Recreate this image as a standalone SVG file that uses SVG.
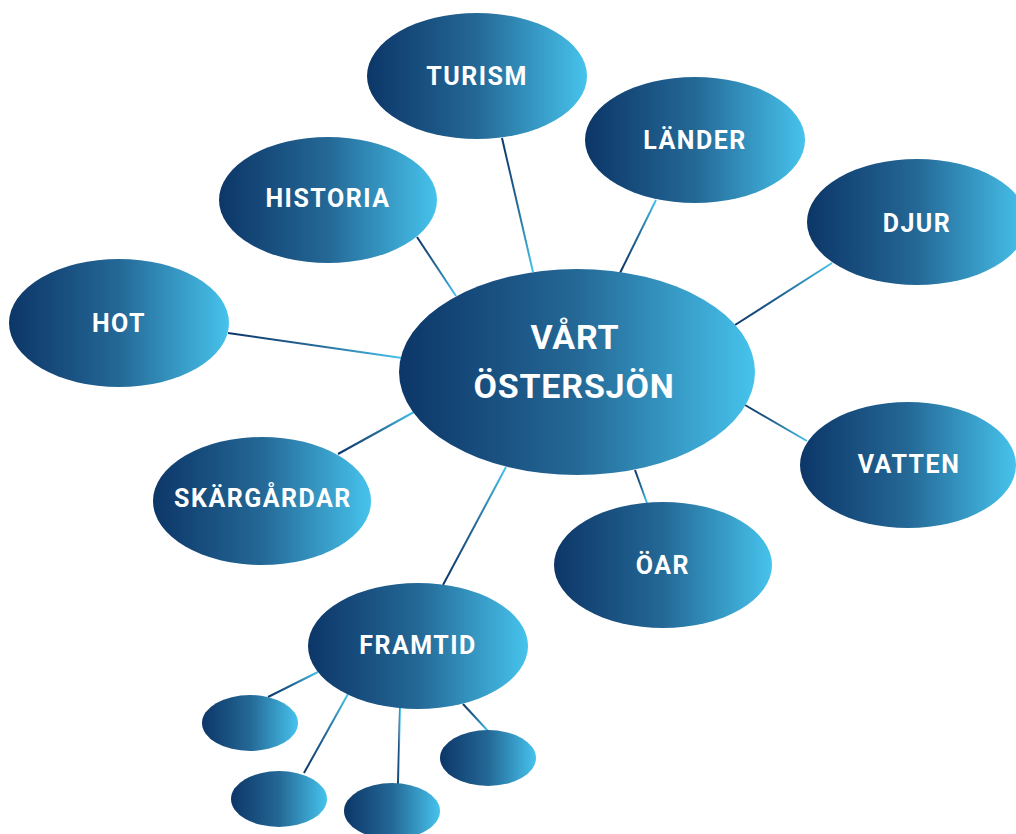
<svg xmlns="http://www.w3.org/2000/svg" width="1016" height="834" viewBox="0 0 1016 834">
<defs>
<linearGradient id="g" x1="0" y1="0" x2="1" y2="0">
<stop offset="0" stop-color="#0c3668"/>
<stop offset="0.5" stop-color="#246896"/>
<stop offset="1" stop-color="#46c3ec"/>
</linearGradient>
<style>
.n{fill:url(#g)}
.c line{stroke:url(#g);stroke-width:2}
text{fill:#fff;font-family:Roboto,"Liberation Sans",sans-serif;font-weight:700;font-size:25px;text-anchor:middle;letter-spacing:1.5px}
.big{font-size:34px;letter-spacing:0.8px}
</style>
</defs>
<rect width="1016" height="834" fill="#fff"/>
<g class="c" id="connectors">
<line x1="228" y1="333" x2="402" y2="358"/>
<line x1="417" y1="237" x2="456" y2="296"/>
<line x1="502" y1="138" x2="533" y2="272"/>
<line x1="656" y1="200" x2="620" y2="273"/>
<line x1="832" y1="263" x2="735" y2="325"/>
<line x1="745" y1="405" x2="807" y2="441"/>
<line x1="635" y1="470" x2="647" y2="503"/>
<line x1="338" y1="454" x2="414" y2="412"/>
<line x1="506" y1="467" x2="443" y2="585"/>
<line x1="268" y1="697" x2="318" y2="672"/>
<line x1="304" y1="773" x2="348" y2="694"/>
<line x1="398" y1="784" x2="400" y2="708"/>
<line x1="463" y1="704" x2="488" y2="731"/>
</g>
<g id="center"><ellipse class="n" cx="577" cy="372" rx="178" ry="103"/><text class="big" x="575" y="349">VÅRT</text><text class="big" x="574" y="398">ÖSTERSJÖN</text></g>
<g id="turism"><ellipse class="n" cx="477" cy="76" rx="110" ry="63"/><text x="477" y="85">TURISM</text></g>
<g id="lander"><ellipse class="n" cx="695" cy="140" rx="110" ry="63"/><text x="695" y="149">LÄNDER</text></g>
<g id="historia"><ellipse class="n" cx="328" cy="200" rx="109" ry="63"/><text x="328" y="207">HISTORIA</text></g>
<g id="djur"><ellipse class="n" cx="917" cy="222" rx="110" ry="63"/><text x="917" y="232">DJUR</text></g>
<g id="hot"><ellipse class="n" cx="119" cy="323" rx="110" ry="64"/><text x="119" y="332">HOT</text></g>
<g id="vatten"><ellipse class="n" cx="908" cy="465" rx="108" ry="63"/><text x="909" y="473">VATTEN</text></g>
<g id="skargardar"><ellipse class="n" cx="262" cy="501" rx="109" ry="64"/><text x="263" y="507">SKÄRGÅRDAR</text></g>
<g id="oar"><ellipse class="n" cx="663" cy="565" rx="109" ry="63"/><text x="663" y="574">ÖAR</text></g>
<g id="framtid"><ellipse class="n" cx="418" cy="646" rx="110" ry="63"/><text x="418" y="654">FRAMTID</text></g>
<g id="s1"><ellipse class="n" cx="250" cy="723" rx="48" ry="28"/></g>
<g id="s2"><ellipse class="n" cx="279" cy="799" rx="48" ry="28"/></g>
<g id="s3"><ellipse class="n" cx="392" cy="811" rx="48" ry="28"/></g>
<g id="s4"><ellipse class="n" cx="488" cy="758" rx="48" ry="28"/></g>
</svg>
